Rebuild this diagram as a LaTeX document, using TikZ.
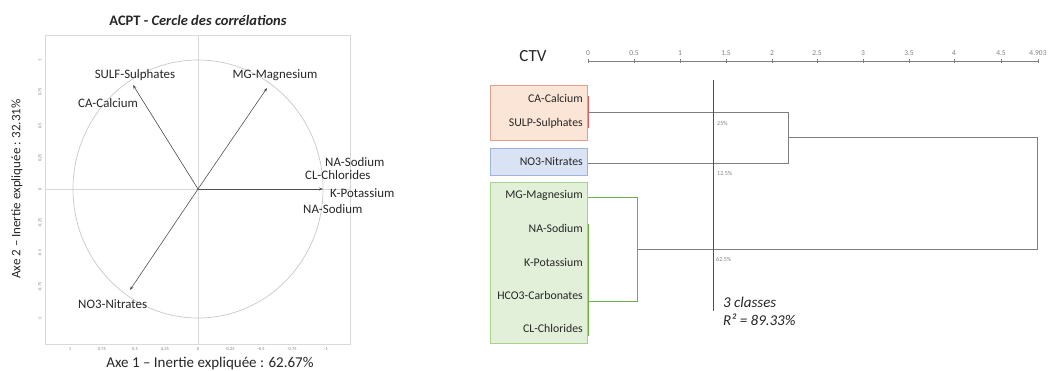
\documentclass[tikz,border=0pt]{standalone}
\usepackage{fontspec}
\setmainfont{Carlito}
\usetikzlibrary{arrows.meta}
\definecolor{framegray}{HTML}{D9D9D9}
\definecolor{circgray}{HTML}{C8C8C8}
\definecolor{vecgray}{HTML}{505050}
\definecolor{dendgray}{HTML}{7F7F7F}
\definecolor{salfill}{HTML}{FBE5D6}
\definecolor{salline}{HTML}{E0A08C}
\definecolor{bluefill}{HTML}{DAE3F3}
\definecolor{blueline}{HTML}{9DB5DC}
\definecolor{grnfill}{HTML}{E2F0D9}
\definecolor{grnline}{HTML}{A9D18E}
\definecolor{redleaf}{HTML}{E05A5A}
\definecolor{grnleaf}{HTML}{70AD47}
\definecolor{txt}{HTML}{262626}
\begin{document}
\begin{tikzpicture}[x=1pt,y=-1pt,
  lbl/.style={font=\fontsize{12.9}{15}\selectfont, text=txt, inner sep=0pt},
  leaf/.style={font=\fontsize{11.8}{14}\selectfont, text=txt, inner sep=0pt, anchor=east},
  tick/.style={font=\fontsize{4.5}{5}\selectfont, text=gray, inner sep=0pt},
  pct/.style={font=\fontsize{6}{7}\selectfont, text=dendgray, inner sep=0pt, anchor=west},
  vec/.style={draw=vecgray, line width=0.6pt, -{Stealth[length=4pt,width=3pt]}},
  dend/.style={draw=dendgray, line width=0.7pt},
  box/.style={line width=0.8pt}]
\useasboundingbox (0,0) rectangle (1062,371);
% ---------------- left: correlation circle ----------------
\node[font=\bfseries\fontsize{14.5}{16}\selectfont, text=txt] (title) at (198,20) {ACPT - \textit{Cercle des corrélations}};
\draw[framegray, line width=0.6pt] (45,35) rectangle (350,344);
\draw[framegray, line width=0.6pt] (198,35) -- (198,344);
\draw[framegray, line width=0.6pt] (45,189) -- (350,189);
\draw[circgray, line width=0.7pt] (198,189) ellipse [x radius=125, y radius=129];
% y tick labels
\foreach \v/\y in {1/60, 0.75/92, 0.5/126, 0.25/158, 0/189, -0.25/223, -0.5/253, -0.75/287, -1/319}
  \node[tick, rotate=90] at (40,\y) {\v};
% x tick labels
\foreach \v/\x in {1/70, 0.75/102, 0.5/135, 0.25/165, 0/198, -0.25/230, -0.5/261, -0.75/292, -1/326}
  \node[tick] at (\x,349) {\v};
\node[font=\fontsize{15}{17}\selectfont, text=txt] (xt) at (210,363) {Axe 1 – Inertie expliquée : 62.67\%};
\node[font=\fontsize{13}{15}\selectfont, text=txt, rotate=90] (yt) at (17,189) {Axe 2 – Inertie expliquée : 32.31\%};
\coordinate (O) at (198,189);
\coordinate (tS) at (133,85);
\coordinate (tM) at (267,88);
\coordinate (tK) at (323,189);
\coordinate (tN) at (130,290);
\draw[vec] (O) -- (tS);
\draw[vec] (O) -- (tM);
\draw[vec] (O) -- (tK);
\draw[vec] (O) -- (tN);
\node[lbl] (sulf) at (135,75) {SULF-Sulphates};
\node[lbl] (mg) at (275,75) {MG-Magnesium};
\node[lbl, anchor=west] (ca) at (78,103) {CA-Calcium};
\node[lbl, anchor=west] (na1) at (325,162) {NA-Sodium};
\node[lbl, anchor=west] (cl) at (305,175) {CL-Chlorides};
\node[lbl, anchor=west] (k) at (330,193) {K-Potassium};
\node[lbl, anchor=west] (na2) at (303,209) {NA-Sodium};
\node[lbl, anchor=west] (no3) at (78,304) {NO3-Nitrates};
% ---------------- right: dendrogram ----------------
\node[font=\fontsize{17}{19}\selectfont, text=txt] (ctv) at (533,56) {CTV};
\draw[dendgray, line width=0.7pt] (588,61) -- (1038,61);
\foreach \v/\x in {0/588, 0.5/634, 1/680, 1.5/726, 2/772, 2.5/817, 3/863, 3.5/909, 4/954, 4.5/1001, 4.903/1038} {
  \draw[dendgray, line width=0.5pt] (\x,59) -- (\x,63);
  \node[tick, text=dendgray, font=\fontsize{7.5}{8}\selectfont] at (\x,53) {\v};
}
% boxes
\draw[box, draw=salline, fill=salfill] (490,85) rectangle (587,140);
\draw[box, draw=blueline, fill=bluefill] (490,148) rectangle (587,175);
\draw[box, draw=grnline, fill=grnfill] (490,182) rectangle (587,343);
% leaves
\node[leaf] (L1) at (583,98) {CA-Calcium};
\node[leaf] (L2) at (583,123) {SULP-Sulphates};
\node[leaf] (L3) at (583,161) {NO3-Nitrates};
\node[leaf] (L4) at (583,195) {MG-Magnesium};
\node[leaf] (L5) at (583,228) {NA-Sodium};
\node[leaf] (L6) at (583,262) {K-Potassium};
\node[leaf] (L7) at (583,295) {HCO3-Carbonates};
\node[leaf] (L8) at (583,328) {CL-Chlorides};
% merge coordinates
\coordinate (a1) at (588,96);
\coordinate (a2) at (588,128);
\coordinate (aM) at (588,112);
\coordinate (bN) at (588,163);
\coordinate (g1) at (588,224);
\coordinate (g2) at (588,336);
\coordinate (gM) at (588,197);
\coordinate (gH) at (588,301);
\coordinate (j1t) at (788,112);
\coordinate (j1b) at (788,163);
\coordinate (j1m) at (788,137);
\coordinate (j2t) at (637,197);
\coordinate (j2b) at (637,301);
\coordinate (j2m) at (637,249);
\coordinate (rt) at (1037,137);
\coordinate (rb) at (1037,249);
\draw[redleaf, line width=1pt] (a1) -- (a2);
\draw[grnleaf, line width=1pt] (g1) -- (g2);
\draw[dend] (aM) -- (j1t) -- (j1b) -- (bN);
\draw[grnleaf, line width=0.8pt] (gM) -- (j2t) -- (j2b) -- (gH);
\draw[dend] (j1m) -- (rt) -- (rb) -- (j2m);
% cut line
\coordinate (cutT) at (713,80);
\coordinate (cutB) at (713,311);
\draw[draw=vecgray, line width=0.7pt] (cutT) -- (cutB);
\node[pct] (p1) at (717,123) {25\%};
\node[pct] (p2) at (717,173) {12.5\%};
\node[pct] (p3) at (716,259) {62.5\%};
\node[font=\itshape\fontsize{15}{17}\selectfont, text=txt, anchor=west, inner sep=0pt] (cls) at (723,302) {3 classes};
\node[font=\itshape\fontsize{15}{17}\selectfont, text=txt, anchor=west, inner sep=0pt] (r2) at (723,320) {R² = 89.33\%};
\end{tikzpicture}
\end{document}
